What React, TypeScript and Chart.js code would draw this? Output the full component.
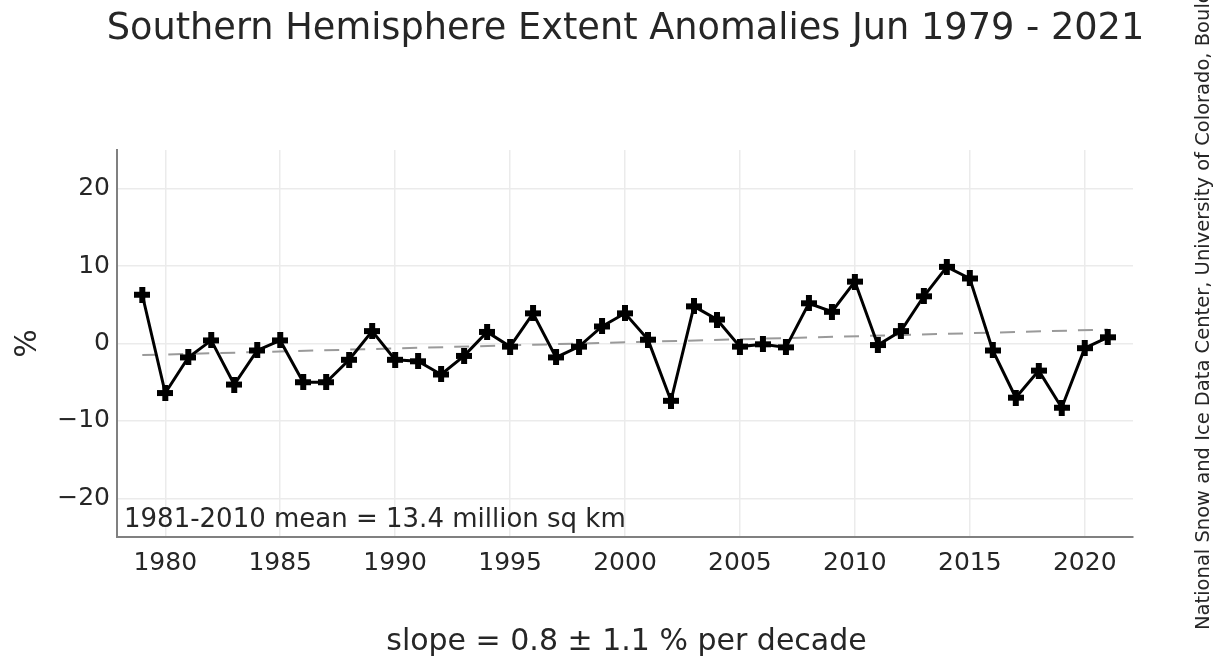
import React, { useEffect, useRef } from 'react';
import { Chart, registerables } from 'chart.js';

Chart.register(...registerables);

const years = [
  1979, 1980, 1981, 1982, 1983, 1984, 1985, 1986, 1987, 1988, 1989, 1990, 1991, 1992, 1993,
  1994, 1995, 1996, 1997, 1998, 1999, 2000, 2001, 2002, 2003, 2004, 2005, 2006, 2007, 2008,
  2009, 2010, 2011, 2012, 2013, 2014, 2015, 2016, 2017, 2018, 2019, 2020, 2021,
];
const anomalies = [
  6.3, -6.4, -1.8, 0.4, -5.3, -0.9, 0.4, -5.0, -5.0, -2.1, 1.6, -2.1, -2.3, -4.0, -1.6,
  1.5, -0.4, 3.9, -1.8, -0.4, 2.2, 3.9, 0.5, -7.4, 4.8, 3.1, -0.4, -0.1, -0.5, 5.2,
  4.1, 8.0, -0.2, 1.6, 6.1, 9.9, 8.4, -0.9, -7.0, -3.5, -8.3, -0.6, 0.8,
];
const trendYears = [1979, 2021];
const trendValues = [-1.5, 1.8];
const xTickValues = [1980, 1985, 1990, 1995, 2000, 2005, 2010, 2015, 2020];
const yTickValues = [-20, -10, 0, 10, 20];

const titleText = 'Southern Hemisphere Extent Anomalies Jun 1979 - 2021';
const slopeText = 'slope = 0.8 \u00b1 1.1 % per decade';
const yLabelText = '%';
const meanText = '1981-2010 mean = 13.4 million sq km';
const creditText = 'National Snow and Ice Data Center, University of Colorado, Boulder';

const FONT = '"DejaVu Sans", "Liberation Sans", sans-serif';
const TEXT_COLOR = '#262626';

function makePlusMarker(size: number, arm: number): HTMLCanvasElement {
  const c = document.createElement('canvas');
  c.width = size;
  c.height = size;
  const ctx = c.getContext('2d')!;
  ctx.fillStyle = '#000';
  const off = (size - arm) / 2;
  ctx.fillRect(off, 0, arm, size);
  ctx.fillRect(0, off, size, arm);
  return c;
}

const textPlugin = {
  id: 'textPlugin',
  afterDraw(chart: any) {
    const ctx = chart.ctx as CanvasRenderingContext2D;
    const area = chart.chartArea;
    ctx.save();
    ctx.fillStyle = TEXT_COLOR;
    // title
    ctx.font = `36.7px ${FONT}`;
    ctx.textAlign = 'center';
    ctx.textBaseline = 'alphabetic';
    ctx.fillText(titleText, 625.5, 39);
    // slope label
    ctx.font = `30px ${FONT}`;
    ctx.fillText(slopeText, 626.5, 650);
    // y label
    ctx.save();
    ctx.translate(36, (area.top + area.bottom) / 2);
    ctx.rotate(-Math.PI / 2);
    ctx.textAlign = 'center';
    ctx.fillText(yLabelText, 0, 0);
    ctx.restore();
    // mean annotation
    ctx.font = `26px ${FONT}`;
    ctx.textAlign = 'left';
    ctx.fillText(meanText, area.left + 7, area.bottom - 10);
    // credit
    ctx.save();
    ctx.translate(1209, 630);
    ctx.rotate(-Math.PI / 2);
    ctx.font = `19.5px ${FONT}`;
    ctx.textAlign = 'left';
    ctx.fillText(creditText, 0, 0);
    ctx.restore();
    ctx.restore();
  },
};

export default function App() {
  const canvasRef = useRef<HTMLCanvasElement | null>(null);

  useEffect(() => {
    if (!canvasRef.current) return;
    const marker = makePlusMarker(16, 6);
    const chart = new Chart(canvasRef.current, {
      type: 'line',
      data: {
        datasets: [
          {
            label: 'trend',
            data: trendYears.map((x, i) => ({ x, y: trendValues[i] })),
            borderColor: '#9a9a9a',
            borderWidth: 2,
            borderDash: [15, 11],
            pointRadius: 0,
            fill: false,
            order: 2,
          },
          {
            label: 'anomaly',
            data: years.map((x, i) => ({ x, y: anomalies[i] })),
            borderColor: '#000',
            borderWidth: 3,
            pointStyle: marker as any,
            pointRadius: 8,
            fill: false,
            order: 1,
          },
        ],
      },
      options: {
        animation: false,
        responsive: true,
        maintainAspectRatio: false,
        layout: { padding: { top: 150, right: 82, left: 0, bottom: 0 } },
        plugins: {
          legend: { display: false },
          tooltip: { enabled: false },
          title: { display: false },
        },
        scales: {
          x: {
            type: 'linear',
            min: 1977.9,
            max: 2022.1,
            afterBuildTicks: (scale: any) => {
              scale.ticks = xTickValues.map((v) => ({ value: v }));
            },
            afterFit: (scale: any) => {
              scale.height = 120;
            },
            ticks: {
              color: TEXT_COLOR,
              font: { family: FONT, size: 25 },
              padding: 11,
              maxRotation: 0,
              autoSkip: false,
              callback: (v: any) => String(v),
            },
            grid: { color: '#ebebeb', lineWidth: 1.5, drawTicks: false },
            border: { display: true, color: '#808080', width: 2 },
          },
          y: {
            type: 'linear',
            min: -25,
            max: 25,
            afterBuildTicks: (scale: any) => {
              scale.ticks = yTickValues.map((v) => ({ value: v }));
            },
            afterFit: (scale: any) => {
              scale.width = 117;
            },
            ticks: {
              color: TEXT_COLOR,
              font: { family: FONT, size: 25 },
              padding: 7,
              autoSkip: false,
              callback: (v: any) => (Number(v) < 0 ? '\u2212' + Math.abs(Number(v)) : String(v)),
            },
            grid: { color: '#ebebeb', lineWidth: 1.5, drawTicks: false },
            border: { display: true, color: '#808080', width: 2 },
          },
        },
      },
      plugins: [textPlugin],
    });
    return () => chart.destroy();
  }, []);

  return (
    <div style={{ position: 'fixed', left: 0, top: 0, width: 1215, height: 657, background: '#fff' }}>
      <canvas ref={canvasRef} />
    </div>
  );
}
